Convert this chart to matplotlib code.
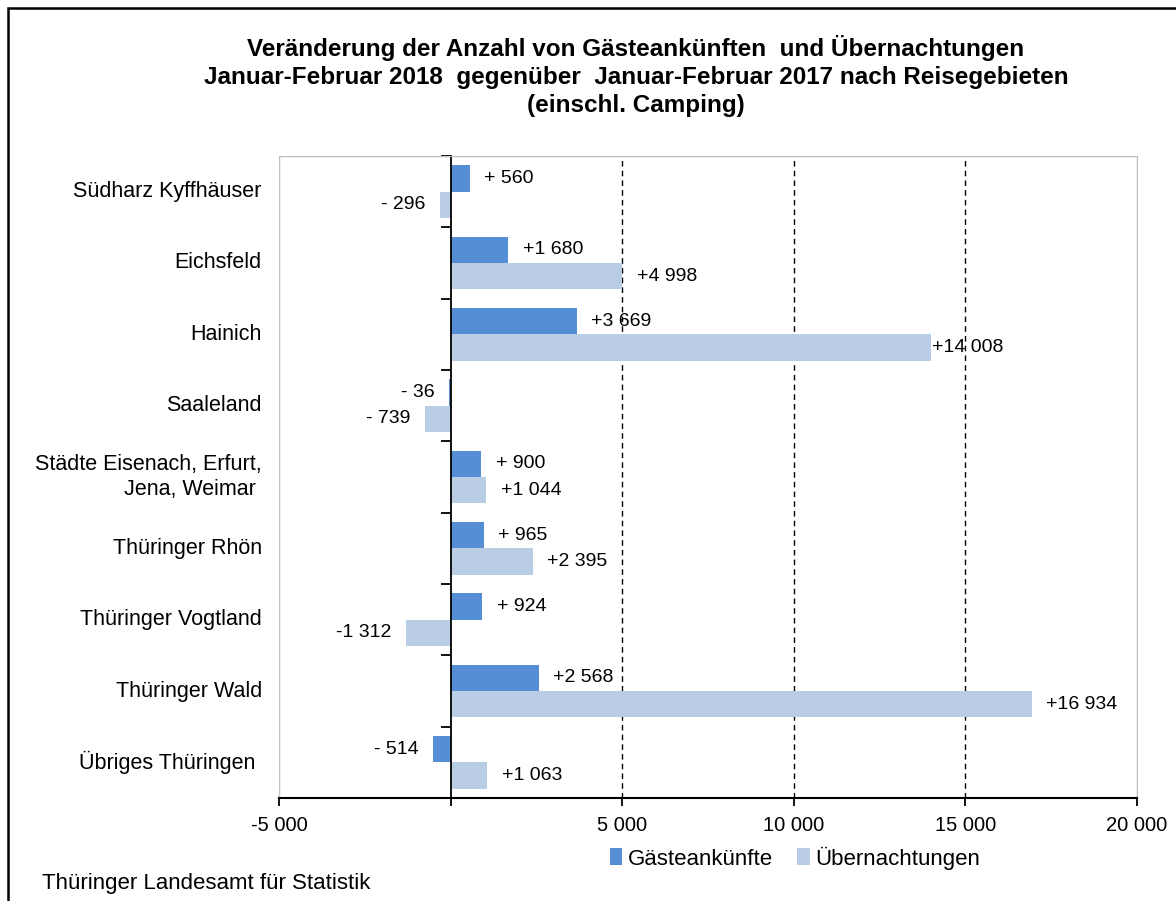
import matplotlib
matplotlib.use("Agg")
import matplotlib.pyplot as plt
import matplotlib.transforms as mtransforms
from matplotlib.patches import Rectangle

plt.rcParams['font.family'] = ['Liberation Sans', 'DejaVu Sans']

# data
regions = ["Südharz Kyffhäuser", "Eichsfeld", "Hainich", "Saaleland",
           "Städte Eisenach, Erfurt,\nJena, Weimar ", "Thüringer Rhön",
           "Thüringer Vogtland", "Thüringer Wald", "Übriges Thüringen "]
arrivals = [560, 1680, 3669, -36, 900, 965, 924, 2568, -514]
overnights = [-296, 4998, 14008, -739, 1044, 2395, -1312, 16934, 1063]
series_names = ["Gästeankünfte", "Übernachtungen"]
xticks = [-5000, 0, 5000, 10000, 15000, 20000]

col_dark = "#558ED5"
col_light = "#B9CDE5"


def fmt(v):
    s = f"{abs(v):,}".replace(",", " ")
    sign = "+" if v > 0 else "-"
    if abs(v) < 1000:
        return sign + " " + s
    return sign + s


def tick_fmt(v):
    if v == 0:
        return ""
    return f"{v:,}".replace(",", " ")


fig = plt.figure(figsize=(11.76, 9.01), dpi=100)
ax = fig.add_axes([279 / 1176, 1 - 798 / 901, 858 / 1176, 642 / 901])

ypos = list(range(len(regions)))
h = 0.37
b1 = ax.barh([y - h / 2 for y in ypos], arrivals, height=h, color=col_dark,
             label=series_names[0])
b2 = ax.barh([y + h / 2 for y in ypos], overnights, height=h, color=col_light,
             label=series_names[1])

ax.set_xlim(-5000, 20000)
ax.set_ylim(len(regions) - 0.5, -0.5)

# gridlines only at the inner positive ticks
for x in xticks[2:-1]:
    ax.axvline(x, color="black", lw=1, ls=(0, (4, 3)), zorder=0)

# zero line as y axis with boundary ticks
ax.spines['left'].set_position(('data', 0))
ax.spines['left'].set_color("black")
ax.spines['left'].set_linewidth(1.3)
ax.set_yticks([y - 0.5 for y in range(len(regions) + 1)])
ax.set_yticklabels([])
ax.tick_params(axis='y', direction='out', length=7, width=1.3, color="black")

for sp in ["top", "right"]:
    ax.spines[sp].set_color("#BFBFBF")
ax.spines['bottom'].set_color("black")
ax.spines['bottom'].set_linewidth(1.5)
ax.add_patch(Rectangle((0, 0), 1, 1, transform=ax.transAxes, fill=False,
                       edgecolor="#BFBFBF", lw=1, zorder=0))

ax.set_xticks(xticks)
ax.set_xticklabels([tick_fmt(v) for v in xticks], fontsize=14.5)
ax.tick_params(axis='x', direction='out', length=6, width=1.3, pad=7)

# category labels left of plot area
trans = mtransforms.blended_transform_factory(ax.transAxes, ax.transData)
for y, name in zip(ypos, regions):
    ax.text(-0.02, y, name, transform=trans, ha="right", va="center",
            fontsize=15.5, multialignment="right", linespacing=1.3)

# value labels
nudge = {(1, 2): -10}
for si, (vals, offs) in enumerate([(arrivals, -h / 2), (overnights, h / 2)]):
    for i, v in enumerate(vals):
        dx = 10.5 + nudge.get((si, i), 0)
        if v > 0:
            ax.annotate(fmt(v), (v, i + offs), xytext=(dx, 0),
                        textcoords="offset points", ha="left", va="center",
                        fontsize=14)
        else:
            ax.annotate(fmt(v), (v, i + offs), xytext=(-10.5, 0),
                        textcoords="offset points", ha="right", va="center",
                        fontsize=14)

fig.text(636 / 1176, 1 - 76 / 901,
         "Veränderung der Anzahl von Gästeankünften  und Übernachtungen\n"
         "Januar-Februar 2018  gegenüber  Januar-Februar 2017 nach Reisegebieten\n"
         "(einschl. Camping)",
         ha="center", va="center", fontsize=17.5, fontweight="bold",
         linespacing=1.27)

fig.legend(handles=[b1, b2], loc="center",
           bbox_to_anchor=(795 / 1176, 1 - 858 / 901), ncol=2, frameon=False,
           fontsize=16, handlelength=0.55, handleheight=0.8,
           handletextpad=0.25, columnspacing=1.1)

fig.text(42 / 1176, 1 - 884 / 901, "Thüringer Landesamt für Statistik",
         ha="left", va="center", fontsize=16)

# outer chart frame (cropped on right and bottom)
fig.add_artist(Rectangle((8 / 1176, -0.1), 1.2, 1 - 8 / 901 + 0.1,
                         transform=fig.transFigure, fill=False,
                         edgecolor="black", lw=1.8))

fig.savefig("out.png", dpi=100)
